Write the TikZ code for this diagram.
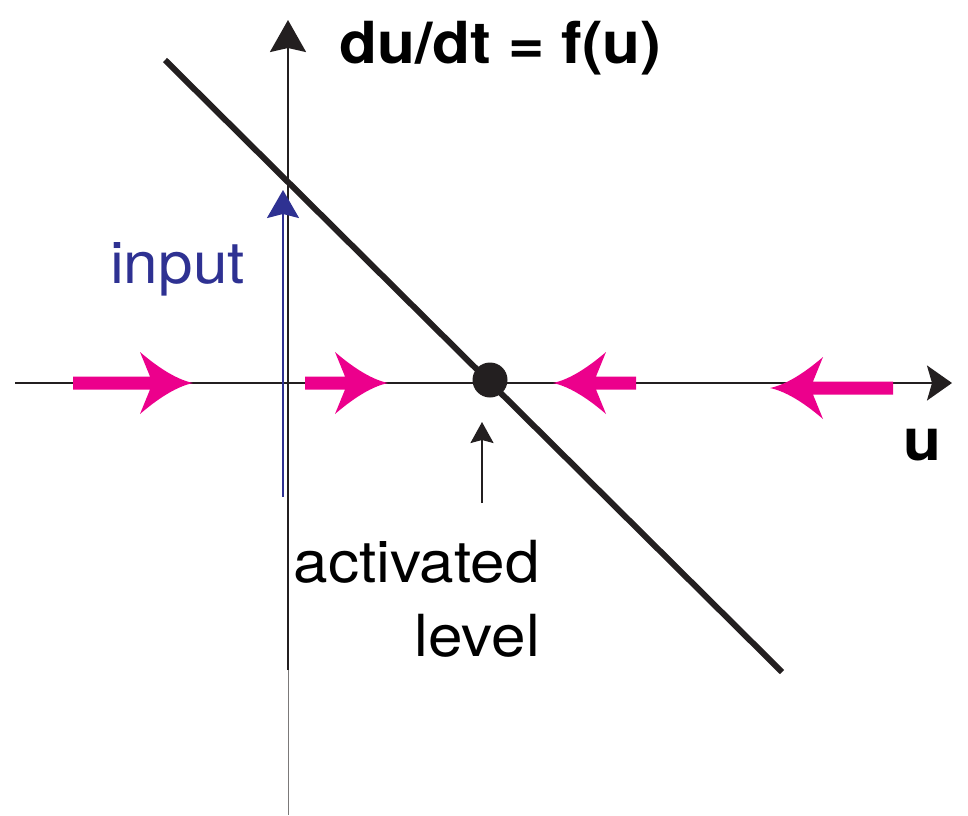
\documentclass[tikz,border=0pt]{standalone}
\usepackage{fontspec}
\setmainfont{TeX Gyre Heros}
\newfontfamily\widesans[FakeStretch=1.07]{TeX Gyre Heros}
\usetikzlibrary{arrows.meta}
\definecolor{ink}{HTML}{231F20}
\definecolor{mag}{HTML}{EC008C}
\definecolor{inblue}{HTML}{2E3192}
\tikzset{
  axisline/.style={draw=ink, line width=2.2pt},
  bigtext/.style={inner sep=0pt, anchor=base west, font=\widesans\fontsize{58}{70}\selectfont},
  magarrow/.pic={
    \fill[mag] (-#1,-6.5) -- (10,-6.5) -- (0,-31)
      .. controls (14,-19) and (34,-4) .. (53,0)
      .. controls (34,4) and (14,19) .. (0,31)
      -- (10,6.5) -- (-#1,6.5) -- cycle;
  }
}
\begin{document}
\begin{tikzpicture}[x=1pt,y=-1pt]
\useasboundingbox (0,0) rectangle (968,815);
% coordinates
\coordinate (xl) at (15,383);
\coordinate (xr) at (952,383);
\coordinate (yt) at (288,20);
\coordinate (ym) at (288,670);
\coordinate (yb) at (288,815);
\coordinate (ls) at (165,60);
\coordinate (le) at (782,672);
\coordinate (inb) at (283,497);
\coordinate (int) at (283,190);
\coordinate (acb) at (482,503);
\coordinate (act) at (482,422);
% axes
\draw[axisline, -{Stealth[length=25pt,width=35pt,inset=5pt]}] (xl) -- (xr);
\draw[axisline, -{Stealth[length=32pt,width=36pt,inset=4pt]}] (ym) -- (yt);
\draw[draw=ink!60, line width=1pt] (ym) -- (yb);
% input arrow
\draw[draw=inblue, line width=2pt, -{Stealth[length=28pt,width=32pt,inset=4pt]}] (inb) -- (int);
% f(u) line
\draw[draw=ink, line width=6pt] (ls) -- (le);
% fixed point
\node[circle, fill=ink, minimum size=35pt, inner sep=0pt] (eq) at (490,380) {};
% activated level arrow
\draw[draw=ink, line width=2pt, -{Stealth[length=21pt,width=23pt,inset=3pt]}] (acb) -- (act);
% magenta flow arrows
\pic at (140,383) {magarrow=67};
\pic at (335,383) {magarrow=30};
\pic[xscale=-1] at (606,383) {magarrow=30};
\pic[xscale=-1] at (823,388) {magarrow=70};
% labels
\node[bigtext, font=\widesans\fontsize{58}{70}\selectfont\bfseries] (title) at (339,63) {du/dt = f(u)};
\node[bigtext, text=inblue] (inlab) at (110,283) {input};
\node[bigtext, anchor=base east] (act1) at (540,582) {activated};
\node[bigtext, anchor=base east] (act2) at (540,656) {level};
\node[bigtext, font=\widesans\fontsize{58}{70}\selectfont\bfseries] (ulab) at (903,460) {u};
\end{tikzpicture}
\end{document}
